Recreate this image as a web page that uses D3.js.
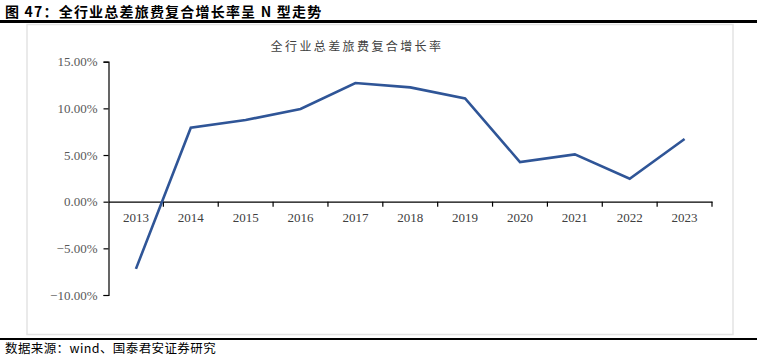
<!DOCTYPE html>
<html><head><meta charset="utf-8">
<script src="https://cdn.jsdelivr.net/npm/d3@7"></script>
<style>
html,body{margin:0;padding:0;background:#fff;}
svg{display:block;}
</style></head>
<body>
<svg id="c" width="760" height="358"></svg>
<script>
const years = ["2013","2014","2015","2016","2017","2018","2019","2020","2021","2022","2023"];
const growth = [-7.2, 7.92, 8.75, 9.93, 12.71, 12.25, 11.07, 4.25, 5.07, 2.46, 6.71];
const yTicks = [-10, -5, 0, 5, 10, 15];
const headerText = "图 47：全行业总差旅费复合增长率呈 N 型走势";
const chartTitle = "全行业总差旅费复合增长率";
const sourceText = "数据来源：wind、国泰君安证券研究";

const svg = d3.select("#c");
const serif = "'Liberation Serif','Times New Roman',serif";
const cjk = "'Noto Sans CJK SC',sans-serif";

// header
svg.append("text").attr("x",5).attr("y",17).attr("font-family",cjk).attr("font-weight","bold")
  .attr("font-size",14).attr("letter-spacing",1.2).attr("fill","#000").text(headerText);
svg.append("rect").attr("x",0).attr("y",20).attr("width",757).attr("height",3).attr("fill","#000");
// frame
svg.append("rect").attr("x",27).attr("y",24.5).attr("width",706).attr("height",310)
  .attr("fill","none").attr("stroke","#e3e3e3").attr("stroke-width",1.5);
svg.append("rect").attr("x",0).attr("y",338).attr("width",757).attr("height",2).attr("fill","#000");
svg.append("text").attr("x",5).attr("y",353).attr("font-family",cjk)
  .attr("font-size",12.5).attr("letter-spacing",0.4).attr("fill","#000").text(sourceText);

// chart title
svg.append("text").attr("x",357).attr("y",51).attr("text-anchor","middle")
  .attr("font-family",cjk).attr("font-size",12).attr("letter-spacing",2.4).attr("fill","#404040").text(chartTitle);

const x = d3.scaleBand().domain(years).range([108.5, 712]).paddingInner(0).paddingOuter(0);
const y = d3.scaleLinear().domain([-10, 15]).range([295, 61.7]);

// y axis
const yAxis = svg.append("g").attr("transform","translate(108.5,0)")
  .call(d3.axisLeft(y).tickValues(yTicks).tickSize(5).tickFormat(d => d3.format(".2f")(d) + "%"));
yAxis.select(".domain").attr("stroke","#000").attr("stroke-width",1.2);
yAxis.selectAll(".tick line").attr("stroke","#000").attr("stroke-width",1.2);
yAxis.selectAll(".tick text").attr("font-family",serif).attr("font-size",13).attr("fill","#595959").attr("x",-11);

// x axis at zero
const xAxis = svg.append("g").attr("transform",`translate(0,${y(0)})`)
  .call(d3.axisBottom(x).tickSize(0).tickSizeOuter(0));
xAxis.select(".domain").attr("stroke","#000").attr("stroke-width",1.2);
xAxis.selectAll(".tick text").attr("font-family",serif).attr("font-size",13).attr("fill","#404040").attr("dy","0").attr("y",20);
// boundary ticks
const bounds = years.map(d => x(d)).concat([x(years[years.length-1]) + x.bandwidth()]).slice(1);
xAxis.selectAll(".btick").data(bounds).enter().append("line")
  .attr("x1",d=>d).attr("x2",d=>d).attr("y1",0).attr("y2",5).attr("stroke","#000").attr("stroke-width",1.2);

// line
const line = d3.line().x((d,i)=>x(years[i]) + x.bandwidth()/2).y(d=>y(d));
svg.append("path").datum(growth).attr("d",line).attr("fill","none")
  .attr("stroke","#2f5597").attr("stroke-width",2.6).attr("stroke-linejoin","miter");
</script>
</body></html>
